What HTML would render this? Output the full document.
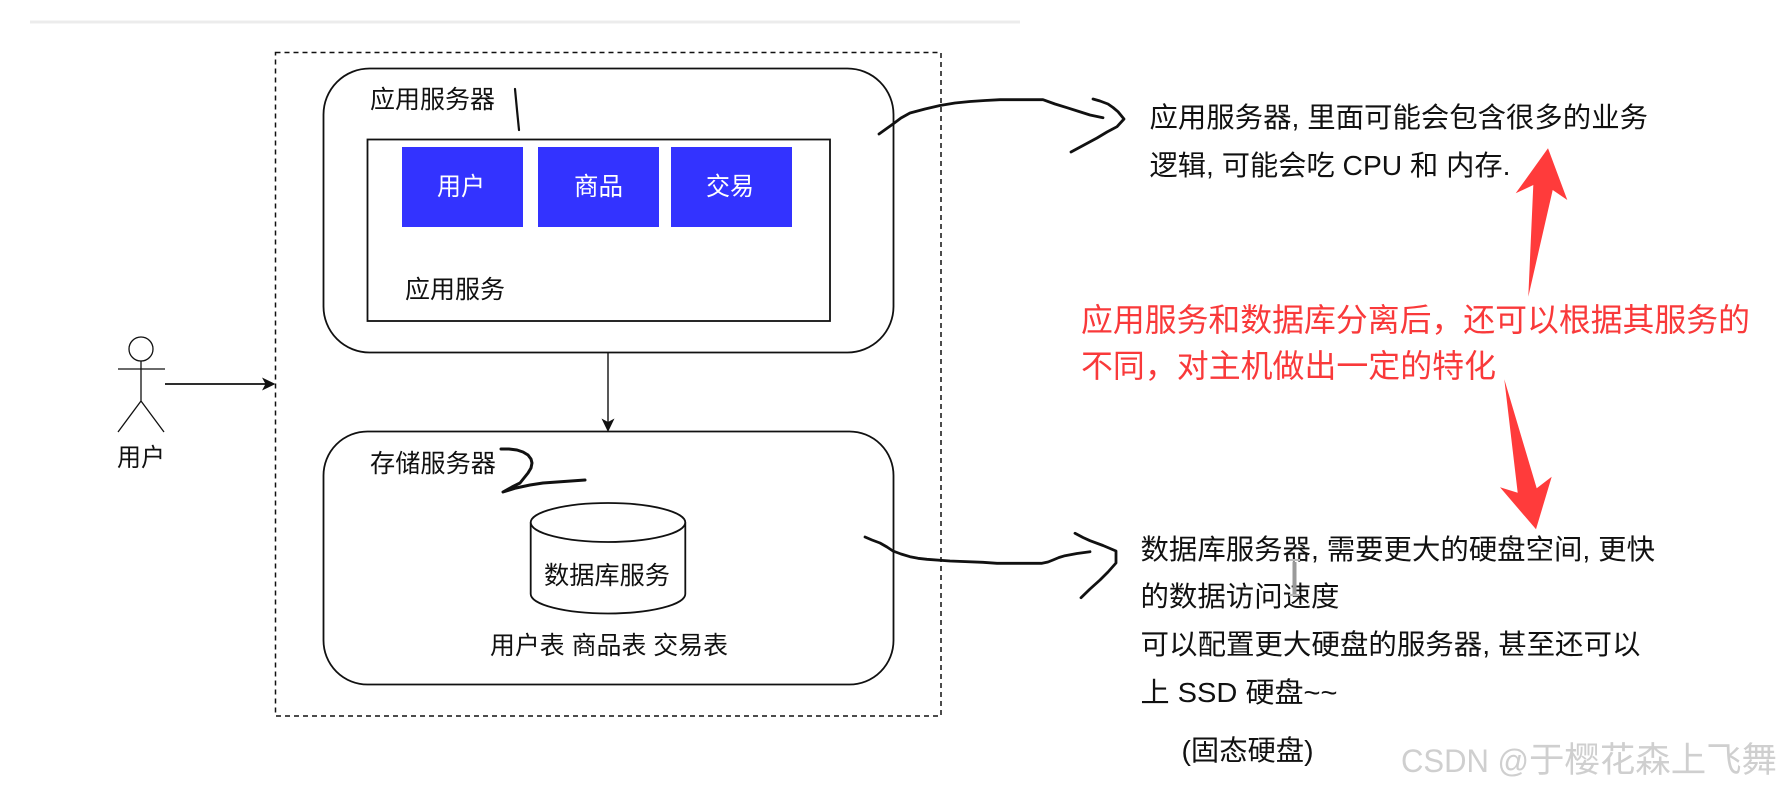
<!DOCTYPE html>
<html lang="zh">
<head>
<meta charset="utf-8">
<style>
html,body{margin:0;padding:0;background:#fff;width:1777px;height:789px;overflow:hidden}
svg{display:block;filter:blur(0.35px)}
text{font-family:"Liberation Sans","Noto Sans CJK SC",sans-serif;fill:#111}
.s{fill:none;stroke:#111;stroke-width:1.8}
.h{fill:none;stroke:#111;stroke-width:2.8;stroke-linecap:round;stroke-linejoin:round}
.r{fill:#ff3b3b;stroke:none}
.l{font-size:25px}
.m{font-size:28px}
.c{font-size:32px;fill:#f9393a}
</style>
</head>
<body>
<svg width="1777" height="789" viewBox="0 0 1777 789" xmlns="http://www.w3.org/2000/svg">
<rect x="30" y="20.500" width="990" height="3" fill="#ececec"/>
<rect x="275.500" y="52.500" width="665.500" height="663.500" fill="none" stroke="#111" stroke-width="1.500" stroke-dasharray="5 4"/>

<!-- app server -->
<rect x="323.500" y="68.500" width="570" height="284" rx="46" ry="46" class="s"/>
<rect x="367.500" y="139.500" width="462.500" height="181.500" class="s"/>
<rect x="402" y="147" width="121" height="80" fill="#3333ff"/>
<rect x="538" y="147" width="121" height="80" fill="#3333ff"/>
<rect x="671" y="147" width="121" height="80" fill="#3333ff"/>
<text x="370" y="108" class="l" textLength="125" lengthAdjust="spacingAndGlyphs">应用服务器</text>
<text x="437" y="195" class="l" style="fill:#fff" textLength="48" lengthAdjust="spacingAndGlyphs">用户</text>
<text x="574" y="195" class="l" style="fill:#fff" textLength="49" lengthAdjust="spacingAndGlyphs">商品</text>
<text x="706" y="195" class="l" style="fill:#fff" textLength="48" lengthAdjust="spacingAndGlyphs">交易</text>
<text x="405" y="298" class="l" textLength="100" lengthAdjust="spacingAndGlyphs">应用服务</text>
<path d="M515 89 L517 110 L519 130" class="h" style="stroke-width:2.200"/>

<!-- actor -->
<ellipse cx="141" cy="349" rx="12" ry="12" class="s" style="stroke-width:1.300"/>
<path d="M118 369 H165 M141 361 V401 M141 401 L118 432 M141 401 L164 432" class="s" style="stroke-width:1.300"/>
<text x="117" y="466" class="l" textLength="48" lengthAdjust="spacingAndGlyphs">用户</text>
<path d="M165 384 H270" class="s"/>
<path d="M275.500 384 L262 377.500 L265.500 384 L262 390.500 Z" fill="#111"/>

<!-- vertical connector -->
<path d="M608 353 V426" class="s" style="stroke-width:1.400"/>
<path d="M608 432 L601.500 418.500 L608 422 L614.500 418.500 Z" fill="#111"/>

<!-- storage server -->
<rect x="323.500" y="431.500" width="570" height="253" rx="44" ry="44" class="s"/>
<text x="370" y="472" class="l" textLength="126" lengthAdjust="spacingAndGlyphs">存储服务器</text>
<polyline points="501,449 509,449 517,450 523,452 528,455 531,459 532,463 531,468 528,473 524,478 520,483 512,487 503,492 516,488 530,485 543,483 557,482 571,481 585,480" class="h" style="stroke-width:3"/>
<path d="M530.700 522.500 A77.300 19.500 0 0 1 685.300 522.500 V594 A77.300 19.500 0 0 1 530.700 594 Z" class="s" style="fill:#fff"/>
<path d="M530.700 522.500 A77.300 19.500 0 0 0 685.300 522.500" class="s"/>
<text x="544" y="584" class="l" textLength="126" lengthAdjust="spacingAndGlyphs">数据库服务</text>
<text x="490" y="654" class="l" textLength="238" lengthAdjust="spacingAndGlyphs">用户表 商品表 交易表</text>

<!-- hand-drawn arrows -->
<polyline points="879,134 886,129 893,124 901,118 910,113 925,109 940,105.500 955,103 970,101.500 985,100.500 1000,99.700 1043,99.700 1055,104 1067,107.700 1079,111.500 1090,115 1103,117.700" class="h"/>
<polyline points="1093,99 1100,101 1108,104 1113,107.500 1118,111.700 1124,119 1117,126.700 1107,132 1097,138 1084,145 1071,152" class="h"/>
<polyline points="865,537 872,540 880,543 887,547 893,551 901,554 910,556.700 918,558.300 927,559.300 950,561 983,562.300 997,563.300 1042,563.300 1048,562 1053,560 1059,557.500 1065,555.700 1077,553.500 1090,551.700" class="h"/>
<polyline points="1075,533.300 1083,537.500 1090,540.700 1103,545.500 1116,551 1116,563 1108,572 1100,580 1090,589 1081,597.700" class="h"/>

<!-- right texts -->
<text x="1149.500" y="127" class="m" textLength="498.500" lengthAdjust="spacingAndGlyphs">应用服务器, 里面可能会包含很多的业务</text>
<text x="1149.500" y="175" class="m" textLength="361" lengthAdjust="spacingAndGlyphs">逻辑, 可能会吃 CPU 和 内存.</text>
<text x="1081" y="331" class="c" textLength="669" lengthAdjust="spacingAndGlyphs">应用服务和数据库分离后，还可以根据其服务的</text>
<text x="1081" y="377" class="c" textLength="415" lengthAdjust="spacingAndGlyphs">不同，对主机做出一定的特化</text>
<text x="1140.500" y="559" class="m" textLength="514.500" lengthAdjust="spacingAndGlyphs">数据库服务器, 需要更大的硬盘空间, 更快</text>
<text x="1140.500" y="606" class="m" textLength="199" lengthAdjust="spacingAndGlyphs">的数据访问速度</text>
<text x="1140.500" y="654" class="m" textLength="500" lengthAdjust="spacingAndGlyphs">可以配置更大硬盘的服务器, 甚至还可以</text>
<text x="1140.500" y="702" class="m" textLength="197" lengthAdjust="spacingAndGlyphs">上 SSD 硬盘~~</text>
<text x="1181.500" y="760" class="m" textLength="132" lengthAdjust="spacingAndGlyphs">(固态硬盘)</text>

<!-- red arrows -->
<path class="r" d="M1548 148.300 L1567.300 200 L1552.700 190 L1528.300 296.700 L1533.300 185 L1515.700 193.300 Z"/>
<path class="r" d="M1504.300 379.300 L1536.700 488.300 L1551.700 476.700 L1536 529.300 L1500 487.300 L1517.700 492.700 Z"/>

<!-- cursor -->
<path d="M1294.500 562 V594" stroke="#9a9a9a" stroke-width="4" fill="none"/>
<path d="M1289 560 H1300 M1289 595 H1300" stroke="#bbbbbb" stroke-width="2" fill="none"/>

<!-- watermark -->
<text x="1401" y="772" style="font-size:32px;fill:#cfcfcf" textLength="128" lengthAdjust="spacingAndGlyphs">CSDN @</text>
<text x="1529" y="772" style="font-size:35px;fill:#cfcfcf" textLength="248" lengthAdjust="spacingAndGlyphs">于樱花森上飞舞</text>
</svg>
</body>
</html>
